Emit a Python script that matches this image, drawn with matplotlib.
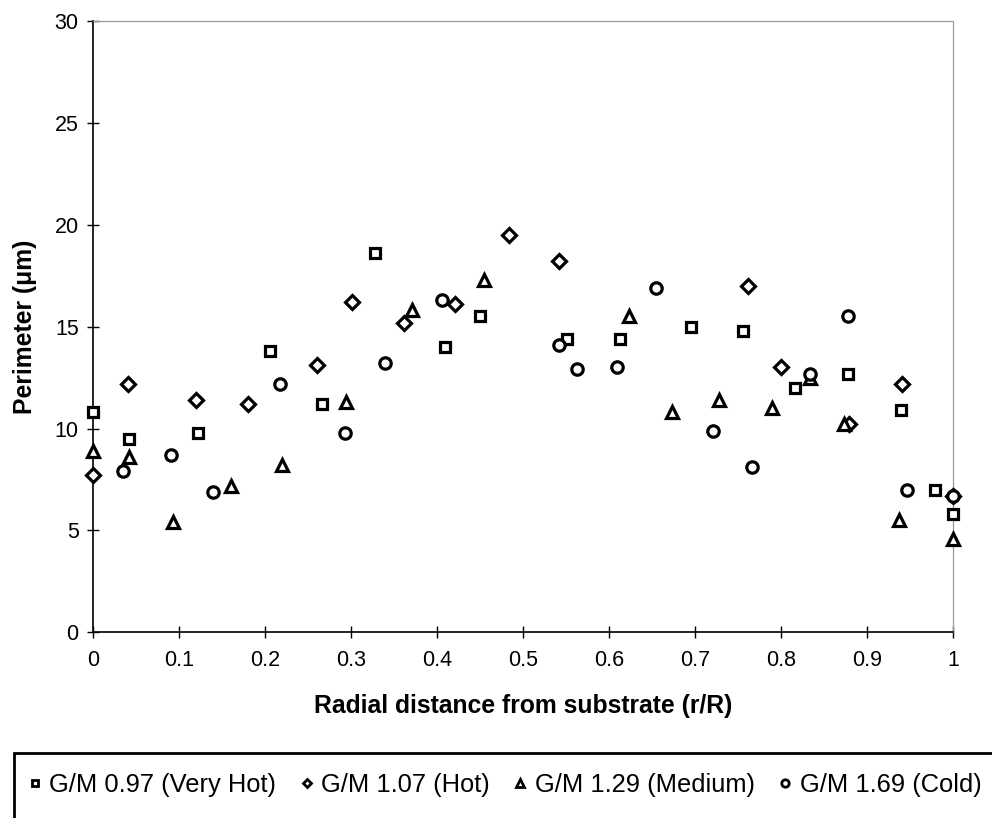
import matplotlib
matplotlib.use("Agg")
import matplotlib.pyplot as plt
from matplotlib.patches import Rectangle

plt.rcParams['font.family'] = ['Liberation Sans', 'DejaVu Sans']

# G/M 0.97 (Very Hot)
vhot_x = [0, 0.041, 0.122, 0.205, 0.266, 0.328, 0.409, 0.45, 0.551, 0.613, 0.695, 0.756, 0.816, 0.878, 0.939, 0.979, 1.0]
vhot_y = [10.8, 9.5, 9.8, 13.8, 11.2, 18.6, 14.0, 15.5, 14.4, 14.4, 15.0, 14.8, 12.0, 12.7, 10.9, 7.0, 5.8]

# G/M 1.07 (Hot)
hot_x = [0, 0.04, 0.12, 0.18, 0.26, 0.301, 0.361, 0.421, 0.484, 0.542, 0.761, 0.80, 0.879, 0.941, 1.0]
hot_y = [7.7, 12.2, 11.4, 11.2, 13.1, 16.2, 15.2, 16.1, 19.5, 18.2, 17.0, 13.0, 10.2, 12.2, 6.7]

# G/M 1.29 (Medium)
med_x = [0, 0.042, 0.093, 0.16, 0.219, 0.294, 0.371, 0.455, 0.623, 0.673, 0.728, 0.79, 0.834, 0.873, 0.937, 1.0]
med_y = [8.9, 8.6, 5.4, 7.2, 8.2, 11.3, 15.8, 17.3, 15.5, 10.8, 11.4, 11.0, 12.5, 10.2, 5.5, 4.6]

# G/M 1.69 (Cold)
cold_x = [0.035, 0.09, 0.139, 0.217, 0.293, 0.339, 0.406, 0.542, 0.563, 0.609, 0.654, 0.721, 0.766, 0.834, 0.878, 0.946, 1.0]
cold_y = [7.9, 8.7, 6.9, 12.2, 9.8, 13.2, 16.3, 14.1, 12.9, 13.0, 16.9, 9.9, 8.1, 12.7, 15.5, 7.0, 6.7]

labels = ["G/M 0.97 (Very Hot)", "G/M 1.07 (Hot)", "G/M 1.29 (Medium)", "G/M 1.69 (Cold)"]
series = [(vhot_x, vhot_y, "s", 7.5), (hot_x, hot_y, "D", 6.8),
          (med_x, med_y, "^", 8.5), (cold_x, cold_y, "o", 8.2)]

fig = plt.figure(figsize=(9.92, 8.18), dpi=100)
ax = fig.add_axes([93.3 / 992, 1 - 632.3 / 818, (953 - 93.3) / 992, (632.3 - 21) / 818])

for (x, y, m, ms), lab in zip(series, labels):
    ax.plot(x, y, linestyle="none", marker=m, markersize=ms, markerfacecolor="white",
            markeredgecolor="black", markeredgewidth=2.3, label=lab, clip_on=False, zorder=3)

ax.set_xlim(0, 1)
ax.set_ylim(0, 30)
ax.set_xticks([i / 10 for i in range(11)])
ax.set_xticklabels(["0"] + ["0.%d" % i for i in range(1, 10)] + ["1"])
ax.set_yticks(range(0, 31, 5))
ax.tick_params(direction="inout", length=9, width=1, labelsize=15.5)
ax.tick_params(axis="x", pad=8)
ax.tick_params(axis="y", pad=6)

for side in ["left", "bottom"]:
    ax.spines[side].set_linewidth(1.2)
    ax.spines[side].set_color("black")
for side in ["top", "right"]:
    ax.spines[side].set_linewidth(0.9)
    ax.spines[side].set_color("#9a9a9a")
    ax.spines[side].set_linestyle((0, (1, 1)))

ax.set_xlabel("Radial distance from substrate (r/R)", fontsize=17.8, fontweight="bold", labelpad=17)
ax.set_ylabel("Perimeter (\u03bcm)", fontsize=17.8, fontweight="bold", labelpad=13)

# legend box runs off the right and bottom edges
fig.patches.append(Rectangle((14 / 992, -0.05), 1.0, 1 - 753.3 / 818 + 0.05,
                             transform=fig.transFigure, fill=False, edgecolor="black", linewidth=2))
leg_handles = []
for (x, y, m, ms), lab in zip(series, labels):
    leg_handles.append(plt.Line2D([], [], linestyle="none", marker=m, markersize=ms * 0.65,
                                  markerfacecolor="white", markeredgecolor="black",
                                  markeredgewidth=2, label=lab))
fig.legend(handles=leg_handles, loc="center left", bbox_to_anchor=(27 / 992, 1 - 785 / 818),
           ncol=4, frameon=False, fontsize=18.4, handlelength=0.6, handletextpad=0.28,
           columnspacing=0.88, borderpad=0, borderaxespad=0)

fig.savefig("out.png", dpi=100)
